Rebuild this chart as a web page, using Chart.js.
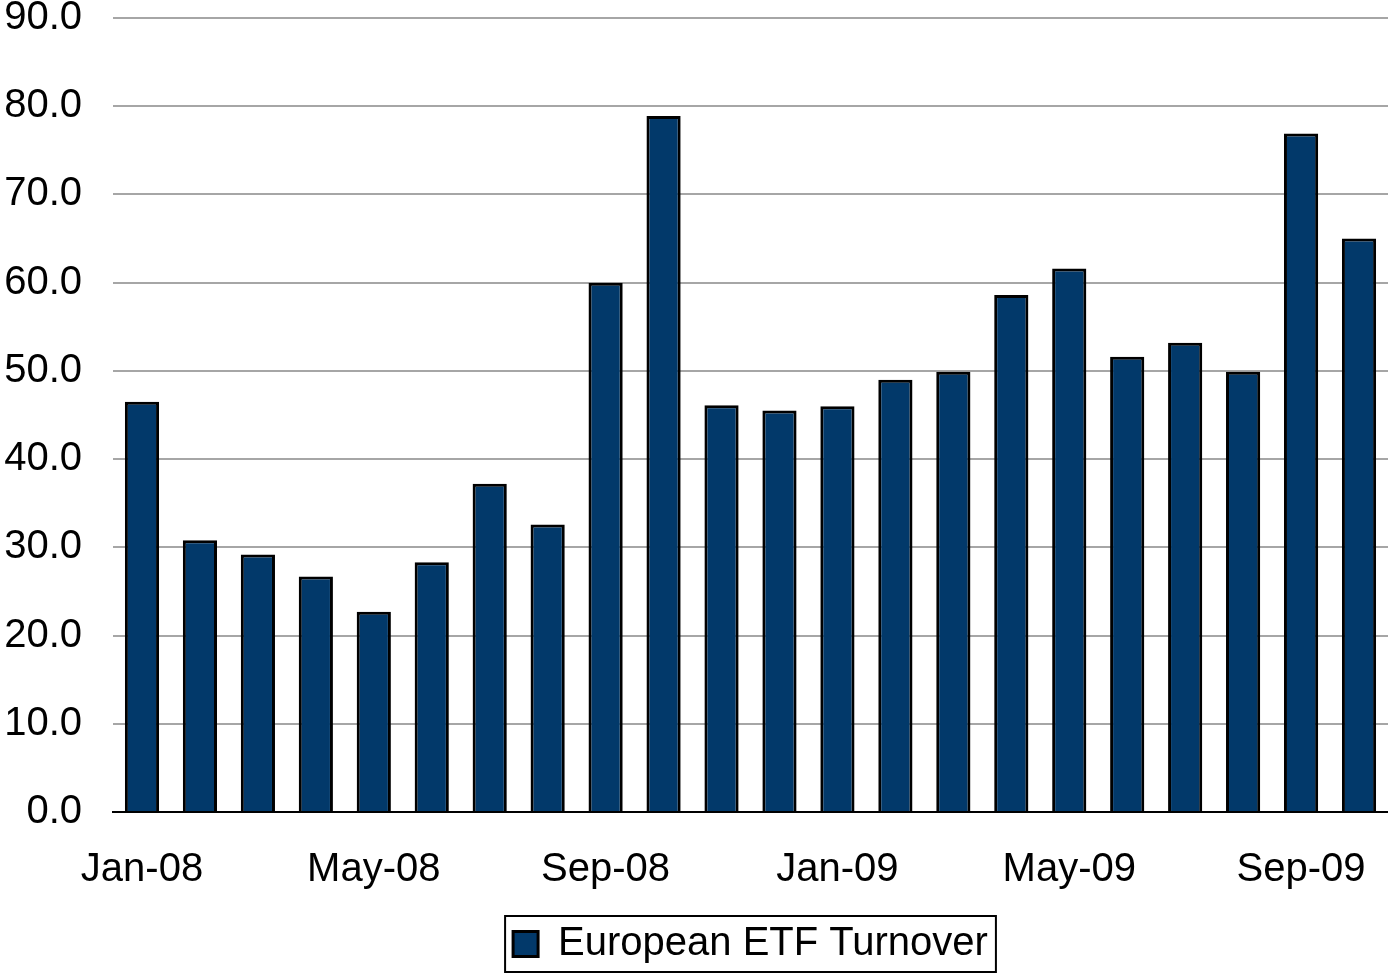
<!DOCTYPE html>
<html>
<head>
<meta charset="utf-8">
<script src="https://cdn.jsdelivr.net/npm/chart.js@4/dist/chart.umd.min.js"></script>
<style>
  html, body { margin: 0; padding: 0; background: #fff; }
  #wrap { width: 1388px; height: 977px; }
</style>
</head>
<body>
<div id="wrap"><canvas id="turnoverChart" width="1388" height="977"></canvas></div>
<script>
const months = ['Jan-08', 'Feb-08', 'Mar-08', 'Apr-08', 'May-08', 'Jun-08', 'Jul-08', 'Aug-08',
    'Sep-08', 'Oct-08', 'Nov-08', 'Dec-08', 'Jan-09', 'Feb-09', 'Mar-09', 'Apr-09',
    'May-09', 'Jun-09', 'Jul-09', 'Aug-09', 'Sep-09', 'Oct-09'];
const turnover = [46.5, 30.8, 29.2, 26.7, 22.7, 28.3, 37.2, 32.6, 60.0, 78.9, 46.1,
    45.5, 46.0, 49.0, 49.9, 58.6, 61.6, 51.6, 53.2, 49.9, 76.9, 65.0];
const seriesName = 'European ETF Turnover';

const FONT = { family: 'Liberation Sans', size: 40 };

// draws the frame round the legend, like the Excel original
const legendFrame = {
    id: 'legendFrame',
    afterDraw(chart) {
        const lg = chart.legend;
        if (!lg || !lg.legendHitBoxes.length) return;
        const hb = lg.legendHitBoxes[0];
        const ctx = chart.ctx;
        const left = hb.left - 8;
        const right = hb.left + hb.width + 8;
        ctx.save();
        ctx.strokeStyle = '#000';
        ctx.lineWidth = 2;
        ctx.strokeRect(left, hb.top - 8, right - left, hb.height + 16);
        ctx.restore();
    }
};

const ctx = document.getElementById('turnoverChart').getContext('2d');
new Chart(ctx, {
    type: 'bar',
    data: {
        labels: months,
        datasets: [{
            label: seriesName,
            data: turnover,
            backgroundColor: '#02396a',
            borderColor: '#000',
            borderWidth: 3,
            borderSkipped: 'start',
            barPercentage: 0.59,
            categoryPercentage: 1.0
        }]
    },
    options: {
        responsive: false,
        animation: false,
        layout: { padding: { top: 0, right: 0, left: 0, bottom: 3 } },
        plugins: {
            tooltip: { enabled: false },
            legend: {
                position: 'bottom',
                fullSize: false,
                labels: {
                    color: '#000',
                    font: FONT,
                    boxWidth: 25,
                    boxHeight: 25,
                    padding: 8
                }
            }
        },
        scales: {
            x: {
                grid: { display: false, drawTicks: false },
                border: { color: '#000', width: 2 },
                ticks: {
                    color: '#000',
                    font: FONT,
                    autoSkip: false,
                    maxRotation: 0,
                    padding: 34,
                    callback: function (val, i) {
                        return i % 4 === 0 ? this.getLabelForValue(val) : '';
                    }
                },
                afterFit: scale => {
                    scale.height = 104;
                    scale.paddingLeft = 0;
                    scale.paddingRight = 0;
                }
            },
            y: {
                min: 0,
                max: 90,
                grid: { color: '#a6a6a6', lineWidth: 2, drawTicks: false },
                border: { display: false },
                ticks: {
                    stepSize: 10,
                    color: '#000',
                    font: FONT,
                    padding: 31,
                    callback: v => v.toFixed(1)
                },
                afterFit: scale => {
                    scale.width = 113;
                    scale.paddingTop = 18;
                    scale.paddingBottom = 0;
                }
            }
        }
    },
    plugins: [legendFrame]
});
</script>
</body>
</html>
